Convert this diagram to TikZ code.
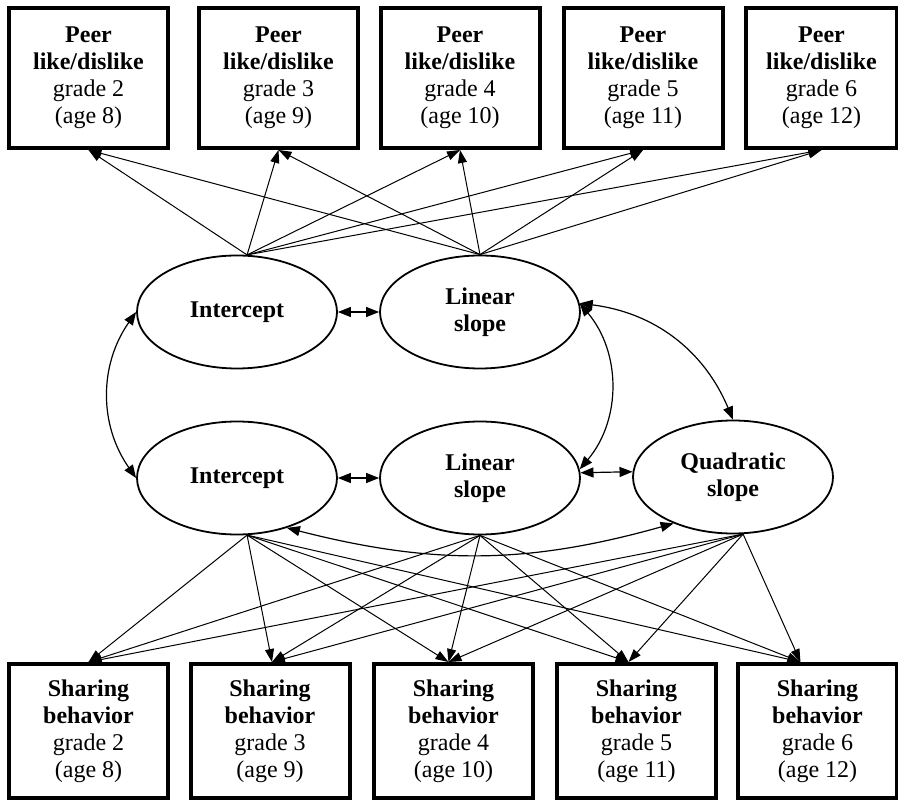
\documentclass[tikz,border=0pt]{standalone}
\usepackage{fontspec}
\setmainfont{Liberation Serif}
\usetikzlibrary{arrows.meta,shapes.geometric}

\begin{document}
\begin{tikzpicture}[x=0.5pt,y=-0.5pt,
	box/.style={draw,line width=2pt,minimum width=79.5pt,minimum height=70pt,inner sep=0pt,align=center,font=\fontsize{12}{13.5}\selectfont},
	latent/.style={draw,ellipse,line width=0.9pt,minimum width=100pt,minimum height=56.5pt,inner sep=0pt,align=center,font=\fontsize{12}{13.5}\selectfont\bfseries},
	load/.style={line width=0.5pt,-{Triangle[length=6.5pt,width=4.5pt]}},
	cov/.style={line width=0.6pt,{Triangle[length=6.5pt,width=5pt]}-{Triangle[length=6.5pt,width=5pt]}}]
	\useasboundingbox (0,0) rectangle (898,801);
	%%Peer like/dislike
	\foreach \i/\x/\gr/\ag in {1/88.5/2/8,2/278.5/3/9,3/460/4/10,4/643/5/11}
		\node[box] (p\i) at (\x,78) {\textbf{Peer}\\\textbf{like/dislike}\\grade \gr\\(age \ag)};
	\node[box,minimum width=75.5pt] (p5) at (821.5,78) {\textbf{Peer}\\\textbf{like/dislike}\\grade 6\\(age 12)};
	%%Latente Variablen
	\node[latent] (int1) at (237,312) {Intercept};
	\node[latent] (lin1) at (480,312) {Linear\\slope};
	\node[latent] (int2) at (237,478) {Intercept};
	\node[latent] (lin2) at (480,478) {Linear\\slope};
	\node[latent] (quad) at (733,477) {Quadratic\\slope};
	%%Sharing behavior
	\foreach \i/\x/\gr/\ag in {1/88.5/2/8,2/270/3/9,3/453.5/4/10,4/636.5/5/11,5/817.5/6/12}
		\node[box,minimum height=67pt] (s\i) at (\x,731) {\textbf{Sharing}\\\textbf{behavior}\\grade \gr\\(age \ag)};
	%%Ladungen
	\foreach \i in {1,...,5}{
		\draw[load] (int1.80) -- (p\i.south);
		\draw[load] (lin1.north) -- (p\i.south);
	}
	\foreach \i/\d in {1/0,2/1,3/-2.5,4/-4,5/-8.5}{
		\draw[load] (int2.-80) -- ([xshift=\d pt]s\i.north);
		\draw[load] (lin2.south) -- ([xshift=\d pt]s\i.north);
		\draw[load] (quad.-80) -- ([xshift=\d pt]s\i.north);
	}
	%%Kovarianzen
	\draw[cov] (int1) -- (lin1);
	\draw[cov] (int2) -- (lin2);
	\draw[cov] (lin2.3) -- (quad.177);
	\draw[cov] (int1.west) to[bend right=35] (int2.west);
	\draw[cov] (lin1.5) to[bend left=40] (lin2.5);
	\draw[cov] (lin1.5) to[bend left=30] (quad.north);
	\draw[cov] (int2.-45) to[bend right=15] (quad.-142);
\end{tikzpicture}
\end{document}
